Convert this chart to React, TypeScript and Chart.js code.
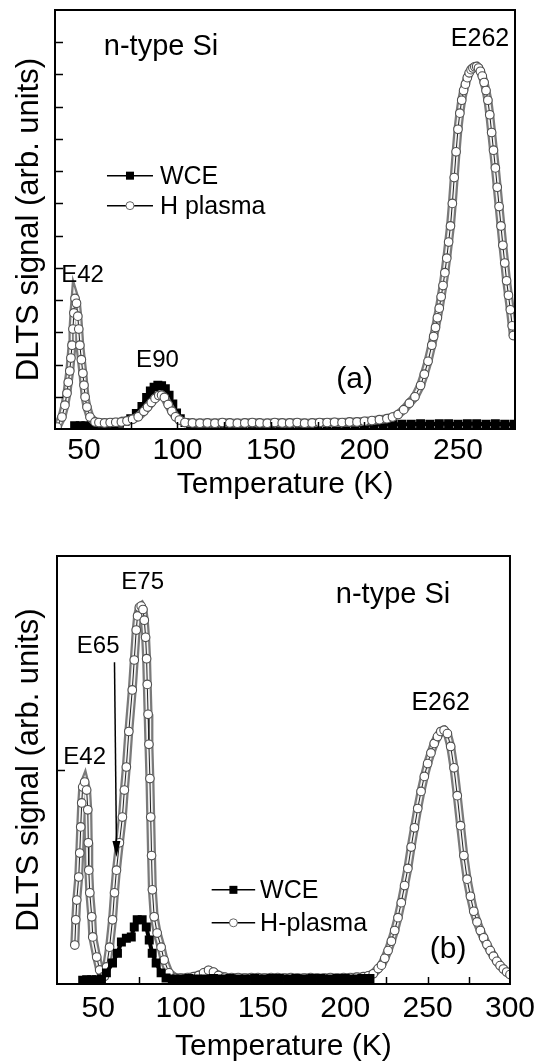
import { useEffect, useRef } from 'react';
import { Chart, registerables } from 'chart.js';
Chart.register(...registerables);

const FONT = '"Liberation Sans", Arial, Helvetica, sans-serif';

// ---------------- Panel (a) ----------------
const tempA_H = [35.6, 38.2, 39.8, 40.9, 41.6, 42.4, 43.0, 43.6, 44.1, 44.6, 45.2, 46.0, 46.7, 47.2, 47.8, 48.6, 49.4, 50.0, 50.6, 51.6, 53.2, 55.9,
  58, 61, 64, 67, 70, 73, 76, 79, 82, 84, 86, 88, 90, 91.5, 93, 95, 97, 99, 101, 104, 108,
  112, 116, 120, 124, 128, 132, 136, 140, 144, 148, 152, 156, 160, 164, 168, 172, 176, 180, 184, 188, 192, 196, 200, 204, 208,
  212, 215, 218, 221, 224, 227, 230,
  232, 234, 236, 237, 238, 239, 240, 241, 242, 243, 244, 245, 246, 247, 248, 249, 250, 251, 252, 253, 254, 255, 256, 257, 258, 259, 260,
  261, 262, 263, 264, 265, 266, 267, 268, 269, 270, 271, 272, 273, 274, 275, 276, 277, 278, 279, 279.6];
const sigA_H = [0.06, 0.37, 0.74, 1.11, 1.45, 1.8, 2.2, 2.6, 3.1, 3.6, 4.05, 3.9, 3.5, 3.1, 2.6, 2.15, 1.73, 1.36, 0.99, 0.68, 0.37, 0.22,
  0.2, 0.19, 0.2, 0.21, 0.22, 0.25, 0.3, 0.38, 0.55, 0.68, 0.82, 0.95, 1.04, 1.05, 0.98, 0.76, 0.55, 0.38, 0.28, 0.2, 0.19,
  0.18, 0.19, 0.18, 0.2, 0.19, 0.18, 0.19, 0.2, 0.19, 0.18, 0.2, 0.19, 0.19, 0.2, 0.18, 0.19, 0.2, 0.2, 0.21, 0.2, 0.22, 0.22, 0.24, 0.26, 0.29,
  0.32, 0.37, 0.45, 0.6, 0.8, 1.0, 1.35,
  1.7, 2.1, 2.6, 2.87, 3.15, 3.45, 3.75, 4.1, 4.45, 4.85, 5.3, 5.8, 6.3, 7.0, 7.8, 8.6, 9.3, 9.8, 10.2, 10.5, 10.7, 10.9, 11.05, 11.15, 11.2, 11.24, 11.25,
  11.2, 11.1, 10.95, 10.75, 10.5, 10.2, 9.75, 9.2, 8.65, 8.1, 7.5, 6.9, 6.3, 5.7, 5.15, 4.6, 4.15, 3.7, 3.2, 2.9];

const tempA_W = [45, 48, 51, 54, 57, 60, 63, 66, 69, 72, 75, 78, 81,
  83.5, 85.5, 87.5, 89.5, 91.5, 93.5, 95.5, 97.5, 99.5, 101.5, 104, 107, 110,
  115, 120, 125, 130, 135, 140, 145, 150, 155, 160, 165, 170, 175, 180, 185, 190, 195, 200, 205, 210,
  215, 220, 225, 230, 235, 240, 245, 250, 255, 260, 265, 270, 275, 280];
const sigA_W = [0.1, 0.1, 0.1, 0.1, 0.1, 0.11, 0.12, 0.14, 0.18, 0.24, 0.32, 0.48, 0.7,
  0.98, 1.18, 1.3, 1.36, 1.34, 1.25, 1.05, 0.78, 0.5, 0.32, 0.2, 0.14, 0.12,
  0.12, 0.11, 0.12, 0.12, 0.13, 0.12, 0.12, 0.11, 0.12, 0.13, 0.12, 0.12, 0.13, 0.12, 0.13, 0.13, 0.12, 0.13, 0.14, 0.14,
  0.15, 0.15, 0.15, 0.16, 0.15, 0.16, 0.16, 0.15, 0.16, 0.16, 0.15, 0.16, 0.15, 0.15];

const xTickLabelsA = [50, 100, 150, 200, 250];
const xMinorA = [50, 75, 100, 125, 150, 175, 200, 225, 250, 275];
const yMinorA = [1, 2, 3, 4, 5, 6, 7, 8, 9, 10, 11, 12];

// ---------------- Panel (b) ----------------
const tempB_H = [35.8, 36.4, 37.0, 38.2, 38.8, 39.4, 40.0, 40.6, 41.8, 43.0, 43.7, 44.0, 44.3, 44.9, 46.1, 46.7, 49.1, 50.9, 52.7,
  53.8,
  55.1, 56.9, 58.7, 59.9, 61.1, 62.9, 64.7, 65.9, 67.1, 68.6, 70.7, 71.9, 73.1, 73.9, 75.0, 76.1, 77.2, 78.0, 78.8, 79.4, 79.8, 80.3, 80.8, 81.4, 81.9, 82.4, 82.9, 84.0, 85.8, 88.2, 90.0, 93.0, 97.2,
  100, 104, 108, 111, 114, 117, 120, 123, 127, 131, 135, 139, 143, 147, 151, 155, 159, 163, 167, 171, 175, 179, 183, 187, 191, 195, 199, 203, 207, 211,
  214, 217, 220,
  222, 224, 226, 228, 230, 232, 234, 236, 238, 240, 242, 244, 246, 248, 250, 252, 254, 256, 258, 260,
  262, 264, 266, 268, 270, 272, 274, 276, 278, 280, 282, 284, 286, 288, 290, 292, 294, 296, 298, 300];
const sigB_H = [0.91, 1.5, 1.96, 2.5, 3.06, 3.67, 4.23, 4.6, 4.72, 4.53, 4.07, 3.3, 2.66, 2.13, 1.57, 1.1, 0.63, 0.33, 0.16,
  0.18,
  0.4, 0.86, 1.5, 2.13, 2.66, 3.3, 3.9, 4.53, 5.07, 5.9, 6.87, 7.57, 8.27, 8.6, 8.8, 8.83, 8.75, 8.5, 8.1, 7.6, 7.0, 6.3, 5.6, 4.8, 3.9, 3.0, 2.2, 1.57, 1.19, 0.86, 0.56, 0.26, 0.14,
  0.14, 0.15, 0.17, 0.2, 0.26, 0.32, 0.28, 0.2, 0.16, 0.15, 0.15, 0.14, 0.15, 0.15, 0.14, 0.15, 0.15, 0.14, 0.15, 0.14, 0.14, 0.15, 0.14, 0.14, 0.15, 0.14, 0.15, 0.15, 0.16, 0.17,
  0.19, 0.24, 0.36,
  0.44, 0.6, 0.78, 1.0, 1.25, 1.55, 1.9, 2.3, 2.7, 3.2, 3.65, 4.1, 4.5, 4.85, 5.15, 5.4, 5.62, 5.78, 5.9, 5.93,
  5.85, 5.55, 5.05, 4.4, 3.7, 3.0, 2.45, 2.05, 1.7, 1.45, 1.25, 1.08, 0.92, 0.78, 0.65, 0.53, 0.43, 0.35, 0.28, 0.22];

const tempB_W = [40.6, 43, 46, 49, 52, 55, 58.7, 61.7, 64.1, 67.1, 70.1, 71.9, 73.7, 76.7, 79.2, 81, 82.8, 85.2, 88.2, 91.2, 95,
  100, 105, 110, 115, 120, 125, 130, 135, 140, 145, 150, 155, 160, 165, 170, 175, 180, 185, 190, 195, 200, 205, 210, 215];
const sigB_W = [0.09, 0.1, 0.1, 0.1, 0.12, 0.26, 0.49, 0.72, 0.98, 1.07, 1.1, 1.33, 1.5, 1.5, 1.33, 1.03, 0.72, 0.49, 0.26, 0.14, 0.12,
  0.12, 0.13, 0.12, 0.12, 0.13, 0.12, 0.13, 0.12, 0.12, 0.13, 0.12, 0.13, 0.13, 0.12, 0.13, 0.12, 0.13, 0.13, 0.12, 0.13, 0.13, 0.12, 0.13, 0.13];

const xTickLabelsB = [50, 100, 150, 200, 250, 300];
const xMinorB = [50, 75, 100, 125, 150, 175, 200, 225, 250, 275];
const yMinorB = [5];

// ---------------- text annotations ----------------
const notesA = [
  { t: 91.2, v: 11.86, text: 'n-type Si', size: 29 },
  { t: 261.8, v: 12.1, text: 'E262', size: 25 },
  { t: 49.2, v: 4.77, text: 'E42', size: 24 },
  { t: 89.3, v: 2.14, text: 'E90', size: 24 },
  { t: 194.7, v: 1.52, text: '(a)', size: 30 },
];
const notesB = [
  { t: 77, v: 9.39, text: 'E75', size: 24 },
  { t: 50, v: 7.9, text: 'E65', size: 24 },
  { t: 41.8, v: 5.3, text: 'E42', size: 24 },
  { t: 229, v: 9.09, text: 'n-type Si', size: 29 },
  { t: 257.9, v: 6.57, text: 'E262', size: 25 },
  { t: 262.4, v: 0.79, text: '(b)', size: 30 },
];
const legendA = { t0: 62.3, t1: 86.9, tText: 90.6, v: [7.86, 6.93], labels: ['WCE', 'H plasma'] };
const legendB = { t0: 118.9, t1: 145.3, tText: 148.3, v: [2.2, 1.43], labels: ['WCE', 'H-plasma'] };
const arrowB = { t0: 59.9, v0: 7.52, t1: 61.1, v1: 2.97 };

const pts = (xs: number[], ys: number[]) => xs.map((x, i) => ({ x, y: ys[i] }));

function makeDecor(id: string, cfg: any) {
  return {
    id,
    afterDraw(chart: any) {
      const { ctx, chartArea: a, scales } = chart;
      const xs = scales.x, ys = scales.y;
      const X = (t: number) => xs.getPixelForValue(t);
      const Y = (v: number) => ys.getPixelForValue(v);
      ctx.save();
      ctx.strokeStyle = '#000';
      ctx.lineWidth = 1.5;
      cfg.xMinor.forEach((t: number) => {
        const px = Math.round(X(t)) + 0.5;
        ctx.beginPath(); ctx.moveTo(px, a.bottom); ctx.lineTo(px, a.bottom - 7); ctx.stroke();
      });
      cfg.yMinor.forEach((v: number) => {
        const py = Math.round(Y(v)) + 0.5;
        ctx.beginPath(); ctx.moveTo(a.left, py); ctx.lineTo(a.left + 8, py); ctx.stroke();
      });
      ctx.lineWidth = 2;
      ctx.strokeRect(a.left, a.top, a.right - a.left, a.bottom - a.top);
      ctx.fillStyle = '#000';
      ctx.textBaseline = 'middle';
      ctx.textAlign = 'center';
      cfg.notes.forEach((n: any) => {
        ctx.font = `${n.size}px ${FONT}`;
        ctx.fillText(n.text, X(n.t), Y(n.v));
      });
      // legend
      const lg = cfg.legend;
      lg.v.forEach((v: number, i: number) => {
        const y = Y(v), x0 = X(lg.t0), x1 = X(lg.t1), xm = (x0 + x1) / 2;
        ctx.strokeStyle = '#000'; ctx.lineWidth = 1.5;
        ctx.beginPath(); ctx.moveTo(x0, y); ctx.lineTo(x1, y); ctx.stroke();
        if (i === 0) {
          ctx.fillStyle = '#000'; ctx.fillRect(xm - 4, y - 4, 8, 8);
        } else {
          ctx.beginPath(); ctx.arc(xm, y, 4, 0, Math.PI * 2);
          ctx.fillStyle = '#fff'; ctx.fill(); ctx.strokeStyle = '#666'; ctx.lineWidth = 1; ctx.stroke();
        }
        ctx.fillStyle = '#000'; ctx.textAlign = 'left'; ctx.font = `25px ${FONT}`;
        ctx.fillText(lg.labels[i], X(lg.tText), y + 1);
      });
      if (cfg.arrow) {
        const ar = cfg.arrow;
        const x0 = X(ar.t0), y0 = Y(ar.v0), x1 = X(ar.t1), y1 = Y(ar.v1);
        ctx.strokeStyle = '#000'; ctx.lineWidth = 1.5;
        ctx.beginPath(); ctx.moveTo(x0, y0); ctx.lineTo(x1, y1 - 12); ctx.stroke();
        ctx.fillStyle = '#000';
        ctx.beginPath(); ctx.moveTo(x1, y1); ctx.lineTo(x1 - 4, y1 - 16); ctx.lineTo(x1 + 4, y1 - 16); ctx.closePath(); ctx.fill();
      }
      ctx.restore();
    },
  };
}

function makeConfig(p: any) {
  const hData = pts(p.tH, p.sH);
  const wData = pts(p.tW, p.sW);
  return {
    type: 'line',
    data: {
      datasets: [
        { label: p.hLabel, data: hData, order: p.hOrder, borderColor: '#222', borderWidth: 1, pointStyle: 'circle', pointRadius: 4.3, pointBackgroundColor: '#fff', pointBorderColor: '#505050', pointBorderWidth: 1.1 },
        { label: 'tube-in', data: hData, order: p.hOrder + 0.5, borderColor: '#f4f4f4', borderWidth: 4.5, pointRadius: 0 },
        { label: 'tube-out', data: hData, order: p.hOrder + 0.6, borderColor: '#7a7a7a', borderWidth: 9, pointRadius: 0 },
        { label: 'WCE', data: wData, order: p.wOrder, borderColor: '#000', borderWidth: 4, pointStyle: 'rect', pointRadius: 3.5, pointBackgroundColor: '#000', pointBorderColor: '#000' },
      ],
    },
    options: {
      responsive: false,
      animation: false,
      devicePixelRatio: 1,
      layout: { padding: p.padding },
      plugins: { legend: { display: false }, tooltip: { enabled: false } },
      elements: { line: { tension: 0 } },
      scales: {
        x: {
          type: 'linear', min: p.xMin, max: p.xMax,
          afterBuildTicks: (s: any) => { s.ticks = p.xLabels.map((v: number) => ({ value: v })); },
          afterFit: (s: any) => { s.height = p.xHeight; },
          ticks: { font: { size: 30, family: FONT }, color: '#000', padding: p.tickPad, maxRotation: 0, autoSkip: false },
          grid: { display: false, drawTicks: false },
          border: { display: false },
          title: { display: true, text: 'Temperature (K)', color: '#000', font: { size: 30, family: FONT, lineHeight: 1 }, padding: { top: 0, bottom: p.titlePad } },
        },
        y: {
          type: 'linear', min: 0, max: p.yMax,
          afterFit: (s: any) => { s.width = p.yWidth; },
          ticks: { display: false },
          grid: { display: false, drawTicks: false },
          border: { display: false },
          title: { display: true, text: 'DLTS signal (arb. units)', color: '#000', font: { size: 31, family: FONT, lineHeight: 1 }, padding: { top: 14, bottom: 0 } },
        },
      },
    },
    plugins: [makeDecor(p.id, p.decor)],
  } as any;
}

export default function App() {
  const refA = useRef<HTMLCanvasElement>(null);
  const refB = useRef<HTMLCanvasElement>(null);
  useEffect(() => {
    Chart.defaults.font.family = FONT;
    const a = new Chart(refA.current as any, makeConfig({
      id: 'decorA', tH: tempA_H, sH: sigA_H, tW: tempA_W, sW: sigA_W, hLabel: 'H plasma', hOrder: 0, wOrder: 3,
      padding: { top: 10, right: 27, left: 0, bottom: 0 }, xMin: 34.5, xMax: 280.5, yMax: 13, xLabels: xTickLabelsA,
      xHeight: 102, tickPad: 4, titlePad: 31, yWidth: 55,
      decor: { xMinor: xMinorA, yMinor: yMinorA, notes: notesA, legend: legendA },
    }));
    const b = new Chart(refB.current as any, makeConfig({
      id: 'decorB', tH: tempB_H, sH: sigB_H, tW: tempB_W, sW: sigB_W, hLabel: 'H-plasma', hOrder: 1, wOrder: 0,
      padding: { top: 25, right: 28, left: 0, bottom: 0 }, xMin: 25, xMax: 300, yMax: 10, xLabels: xTickLabelsB,
      xHeight: 78, tickPad: 7, titlePad: 0, yWidth: 57,
      decor: { xMinor: xMinorB, yMinor: yMinorB, notes: notesB, legend: legendB, arrow: arrowB },
    }));
    return () => { a.destroy(); b.destroy(); };
  }, []);
  return (
    <div style={{ position: 'absolute', left: 0, top: 0, width: 542, height: 1062, background: '#fff' }}>
      <canvas ref={refA} width={542} height={531} style={{ display: 'block' }} />
      <canvas ref={refB} width={542} height={531} style={{ display: 'block' }} />
    </div>
  );
}
